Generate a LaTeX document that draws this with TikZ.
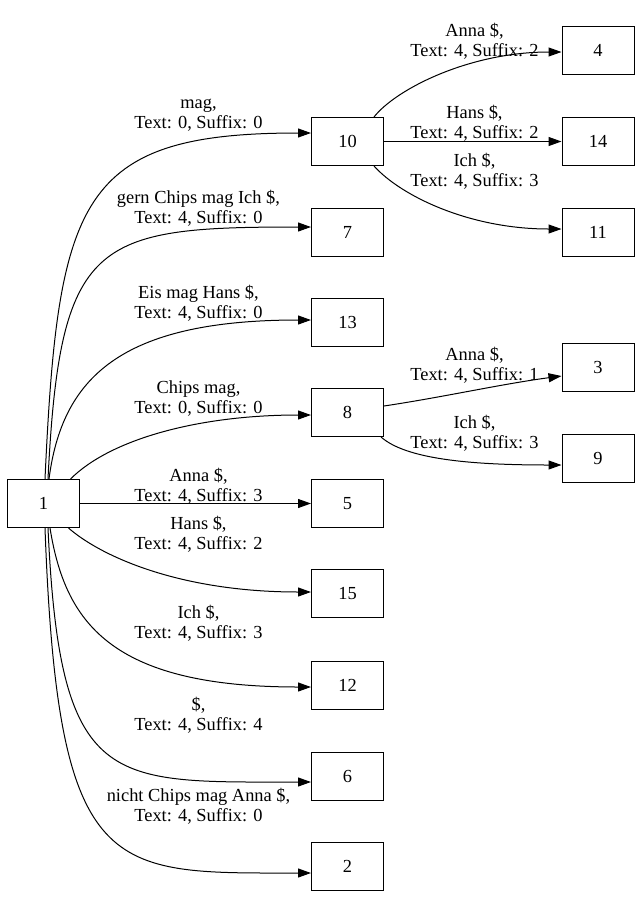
\documentclass[tikz,border=0pt]{standalone}
\usepackage{fontspec}
\setmainfont{Liberation Serif}
\usetikzlibrary{arrows.meta}
\usetikzlibrary{calc}

\begin{document}
\begin{tikzpicture}[x=1pt,y=-1pt,
    box/.style={draw,line width=1pt,minimum width=72pt,minimum height=48pt,inner sep=0pt,font=\fontsize{18.4}{20}\selectfont},
    lab/.style={align=center,inner sep=0pt,font=\fontsize{18.4}{20}\selectfont},
    edge/.style={line width=1pt,-{Triangle[length=13pt,width=9pt]}}]
    \useasboundingbox (0,0) rectangle (642,898);

% 结点
    \node[box] (n1) at (43.5,503.5) {1};
    \node[box] (n10) at (347.5,141.5) {10};
    \node[box] (n7) at (347.5,232) {7};
    \node[box] (n13) at (347.5,322.5) {13};
    \node[box] (n8) at (347.5,412.5) {8};
    \node[box] (n5) at (347.5,503.5) {5};
    \node[box] (n15) at (347.5,593.5) {15};
    \node[box] (n12) at (347.5,685.5) {12};
    \node[box] (n6) at (347.5,776.5) {6};
    \node[box] (n2) at (347.5,866.5) {2};
    \node[box] (n4) at (598,50) {4};
    \node[box] (n14) at (598,141.5) {14};
    \node[box] (n11) at (598,232) {11};
    \node[box] (n3) at (598,367) {3};
    \node[box] (n9) at (598,458) {9};

% 从 1 出发的边
    \draw[edge] ($(n1.north)+(1.5,0)$) .. controls +(13,-280) and +(-232,0) .. ($(n10.west)+(0,-8.5)$);
    \draw[edge] ($(n1.north)+(4.5,0)$) .. controls +(12,-240) and +(-217,0) .. ($(n7.west)+(0,-5)$);
    \draw[edge] ($(n1.north)+(5.5,0)$) .. controls +(13,-100) and +(-192,0) .. ($(n13.west)+(0,-2.5)$);
    \draw[edge] ($(n1.north east)+(-9.5,0)$) .. controls +(40,-40) and +(-112,0) .. ($(n8.west)+(0,2.5)$);
    \draw[edge] (n1.east) -- (n5.west);
    \draw[edge] ($(n1.south east)+(-11.5,0)$) .. controls +(32,28) and +(-132,0) .. ($(n15.west)+(0,-1.5)$);
    \draw[edge] ($(n1.south)+(6.5,0)$) .. controls +(15,93) and +(-202,0) .. ($(n12.west)+(0,1.5)$);
    \draw[edge] ($(n1.south)+(4.5,0)$) .. controls +(12,263) and +(-202,0) .. ($(n6.west)+(0,5.5)$);
    \draw[edge] ($(n1.south)+(1.5,0)$) .. controls +(13,353) and +(-202,0) .. ($(n2.west)+(0,6.5)$);

% 从 10 和 8 出发的边
    \draw[edge] ($(n10.north east)+(-10,0)$) .. controls +(22,-28) and +(-92,0) .. ($(n4.west)+(0,2)$);
    \draw[edge] (n10.east) -- (n14.west);
    \draw[edge] ($(n10.south east)+(-10,0)$) .. controls +(27,30) and +(-92,0) .. ($(n11.west)+(0,-3)$);
    \draw[edge] ($(n8.east)+(0,-6.5)$) .. controls +(60,-9) and +(-60,8) .. ($(n3.west)+(0,9)$);
    \draw[edge] ($(n8.south east)+(-3,0)$) .. controls +(25,22) and +(-92,0) .. ($(n9.west)+(0,7)$);

% 边的标签
    \node[lab] (l10) at (198.5,115) {mag,\\Text: 0, Suffix: 0};
    \node[lab] (l7) at (198.5,208) {gern Chips mag Ich \$,\\Text: 4, Suffix: 0};
    \node[lab] (l13) at (198.5,303.5) {Eis mag Hans \$,\\Text: 4, Suffix: 0};
    \node[lab] (l8) at (198.5,399) {Chips mag,\\Text: 0, Suffix: 0};
    \node[lab] (l5) at (198.5,486) {Anna \$,\\Text: 4, Suffix: 3};
    \node[lab] (l15) at (198.5,534.5) {Hans \$,\\Text: 4, Suffix: 2};
    \node[lab] (l12) at (198.5,623) {Ich \$,\\Text: 4, Suffix: 3};
    \node[lab] (l6) at (198.5,715) {\$,\\Text: 4, Suffix: 4};
    \node[lab] (l2) at (198.5,806.5) {nicht Chips mag Anna \$,\\Text: 4, Suffix: 0};
    \node[lab] (l4) at (474.5,41) {Anna \$,\\Text: 4, Suffix: 2};
    \node[lab] (l14) at (474.5,123) {Hans \$,\\Text: 4, Suffix: 2};
    \node[lab] (l11) at (474.5,171) {Ich \$,\\Text: 4, Suffix: 3};
    \node[lab] (l3) at (474.5,365) {Anna \$,\\Text: 4, Suffix: 1};
    \node[lab] (l9) at (474.5,433.5) {Ich \$,\\Text: 4, Suffix: 3};
\end{tikzpicture}
\end{document}
